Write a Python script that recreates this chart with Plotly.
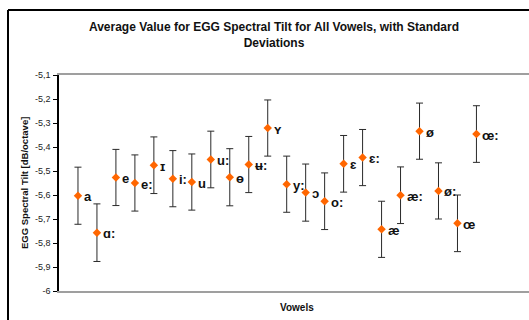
import plotly.graph_objects as go

# Vowel categories, mean EGG spectral tilt and standard deviation (dB/octave)
vowels = ["a", "ɑ:", "e", "e:", "ɪ", "i:", "u", "u:", "ɵ", "ʉ:", "ʏ", "y:",
          "ɔ", "o:", "ɛ", "ɛ:", "æ", "æ:", "ø", "ø:", "œ", "œ:"]
mean_tilt = [-5.603, -5.757, -5.527, -5.550, -5.476, -5.532, -5.546, -5.452,
             -5.526, -5.473, -5.321, -5.555, -5.590, -5.626, -5.470, -5.444,
             -5.743, -5.601, -5.334, -5.583, -5.718, -5.346]
std_dev = [0.119, 0.120, 0.117, 0.117, 0.118, 0.117, 0.117, 0.118,
           0.119, 0.117, 0.117, 0.117, 0.119, 0.118, 0.118, 0.117,
           0.117, 0.118, 0.117, 0.117, 0.118, 0.118]
x_index = list(range(1, len(vowels) + 1))

y_tick_values = [-6.0, -5.9, -5.8, -5.7, -5.6, -5.5, -5.4, -5.3, -5.2, -5.1]
y_tick_labels = ["-6", "-5,9", "-5,8", "-5,7", "-5,6", "-5,5", "-5,4", "-5,3", "-5,2", "-5,1"]

FONT = "Liberation Sans, Arial, sans-serif"

fig = go.Figure()
fig.add_trace(go.Scatter(
    x=x_index,
    y=mean_tilt,
    mode="markers",
    marker=dict(symbol="diamond", size=6.5, color="#FF6600"),
    error_y=dict(type="data", array=std_dev, visible=True,
                 color="#2a2a2a", thickness=1, width=3.5),
    cliponaxis=False,
    showlegend=False,
))

# vowel name beside each point
point_labels = [
    dict(text=v, x=xi, y=yi, xref="x", yref="y",
         xanchor="left", yanchor="middle", xshift=4, yshift=-1,
         showarrow=False,
         font=dict(family=FONT, size=13, color="#111111", weight="bold"))
    for v, xi, yi in zip(vowels, x_index, mean_tilt)
]

fig.update_layout(
    width=529,
    height=320,
    margin=dict(l=59, r=0, t=75, b=29),
    paper_bgcolor="white",
    plot_bgcolor="white",
    title=dict(
        text="Average Value for EGG Spectral Tilt for All Vowels, with Standard<br>Deviations",
        font=dict(family=FONT, size=12, color="#111111", weight="bold"),
        x=274 / 529, xanchor="center", xref="container",
        y=1 - 31 / 320, yanchor="top", yref="container",
    ),
    xaxis=dict(
        range=[0, 24.77],
        showticklabels=False,
        ticks="",
        showgrid=False,
        zeroline=False,
        showline=True,
        linecolor="#9f9f9f",
        linewidth=1.5,
        mirror=True,
    ),
    yaxis=dict(
        range=[-6.0, -5.1],
        tickvals=y_tick_values,
        ticktext=y_tick_labels,
        ticks="outside",
        ticklen=4,
        tickcolor="#000000",
        tickwidth=1,
        tickfont=dict(family=FONT, size=9, color="#222222"),
        ticklabelstandoff=1,
        showgrid=False,
        zeroline=False,
        showline=True,
        linecolor="#000000",
        linewidth=1.5,
    ),
    annotations=point_labels + [
        dict(text="Vowels", xref="paper", yref="paper",
             x=(296.5 - 59) / 470, y=(291 - 307.5) / 216,
             xanchor="center", yanchor="middle", showarrow=False,
             font=dict(family=FONT, size=10, color="#111111", weight="bold")),
        dict(text="EGG Spectral Tilt [dB/octave]", xref="paper", yref="paper",
             x=(24 - 59) / 470, y=0.5, textangle=-90,
             xanchor="center", yanchor="middle", showarrow=False,
             font=dict(family=FONT, size=9.5, color="#111111", weight="bold")),
    ],
    shapes=[
        # chart-area frame (top and left edges)
        dict(type="line", xref="paper", yref="paper",
             x0=(8 - 59) / 470, x1=1.1, y0=(291 - 10) / 216, y1=(291 - 10) / 216,
             line=dict(color="#000000", width=2)),
        dict(type="line", xref="paper", yref="paper",
             x0=(8 - 59) / 470, x1=(8 - 59) / 470, y0=(291 - 10) / 216, y1=-0.3,
             line=dict(color="#000000", width=2)),
    ],
)

fig.write_html("out.html")
